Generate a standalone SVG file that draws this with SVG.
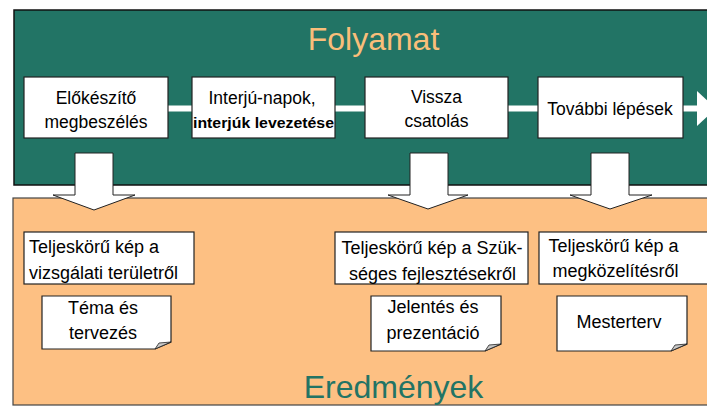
<svg xmlns="http://www.w3.org/2000/svg" width="707" height="408" viewBox="0 0 707 408">
<defs>
<style>
.t{font-family:"Liberation Sans",Arial,sans-serif;fill:#000}
.c{text-anchor:middle}
.bx{fill:#fff;stroke:#222;stroke-width:1.2}
.arr{fill:#fff;stroke:#222;stroke-width:1}
.fold{fill:#c8c8c8;stroke:#222;stroke-width:0.8}
</style>
</defs>
<rect width="707" height="408" fill="#fff"/>
<g id="panel-folyamat">
<rect x="14" y="10" width="710" height="175" fill="#227465" stroke="#111" stroke-width="1.5"/>
<text class="t c" x="373.5" y="50" font-size="32" style="fill:#F9BE7A">Folyamat</text>
</g>
<g id="panel-eredmenyek">
<rect x="13" y="198" width="710" height="207" fill="#FDC083" stroke="#444" stroke-width="1.2"/>
<text class="t c" x="393.5" y="398" font-size="32" style="fill:#227465">Eredmények</text>
</g>
<g id="connectors">
<rect x="160" y="105.5" width="540" height="6" fill="#fff"/>
<polygon points="697,91 716,108.5 697,126" fill="#fff"/>
<polygon class="arr" points="75,153 113,153 113,195 135,195 94,210 53,195 75,195"/>
<polygon class="arr" points="410,153 448,153 448,195 468,195 428,209 388,195 410,195"/>
<polygon class="arr" points="591,153 629,153 629,195 652,195 610,209 570,195 591,195"/>
</g>
<g id="n1">
<rect class="bx" x="24" y="77" width="144" height="61"/>
<text class="t c" x="96" y="104" font-size="17.5">Előkészítő</text>
<text class="t c" x="96" y="127.5" font-size="17.5">megbeszélés</text>
</g>
<g id="n2">
<rect class="bx" x="192" y="77" width="143" height="61"/>
<text class="t c" x="262" y="104" font-size="17.5">Interjú-napok,</text>
<text class="t c" x="263.5" y="127.5" font-size="15" font-weight="bold" textLength="141" lengthAdjust="spacingAndGlyphs">interjúk levezetése</text>
</g>
<g id="n3">
<rect class="bx" x="365" y="77" width="143" height="61"/>
<text class="t c" x="436.5" y="103" font-size="17.5">Vissza</text>
<text class="t c" x="436.5" y="127" font-size="17.5">csatolás</text>
</g>
<g id="n4">
<rect class="bx" x="538" y="77" width="145" height="61"/>
<text class="t c" x="610" y="115" font-size="17.5">További lépések</text>
</g>
<g id="r1">
<rect class="bx" x="24" y="232" width="170" height="52"/>
<text class="t" x="29" y="253" font-size="18">Teljeskörű kép a</text>
<text class="t" x="29" y="279" font-size="18">vizsgálati területről</text>
</g>
<g id="r2">
<rect class="bx" x="335" y="232" width="193" height="52"/>
<text class="t c" x="432" y="254" font-size="18">Teljeskörű kép a Szük-</text>
<text class="t c" x="432.5" y="279.5" font-size="18">séges fejlesztésekről</text>
</g>
<g id="r3">
<rect class="bx" x="539" y="232" width="180" height="52"/>
<text class="t c" x="613.5" y="252" font-size="18">Teljeskörű kép a</text>
<text class="t c" x="615.5" y="277" font-size="18">megközelítésről</text>
</g>
<g id="d1">
<path class="bx" d="M42,296 H171 V342 L155,349 H42 Z"/>
<path class="fold" d="M155,349 L159,343 L171,342 Z"/>
<text class="t c" x="103" y="314" font-size="18">Téma és</text>
<text class="t c" x="103" y="339" font-size="18">tervezés</text>
</g>
<g id="d2">
<path class="bx" d="M371,296 H501 V344 L485,351 H371 Z"/>
<path class="fold" d="M485,351 L489,345 L501,344 Z"/>
<text class="t c" x="433" y="313" font-size="18">Jelentés és</text>
<text class="t c" x="433" y="339" font-size="18">prezentáció</text>
</g>
<g id="d3">
<path class="bx" d="M557,296 H687 V344 L671,351 H557 Z"/>
<path class="fold" d="M671,351 L675,345 L687,344 Z"/>
<text class="t c" x="619" y="328" font-size="18">Mesterterv</text>
</g>
</svg>
